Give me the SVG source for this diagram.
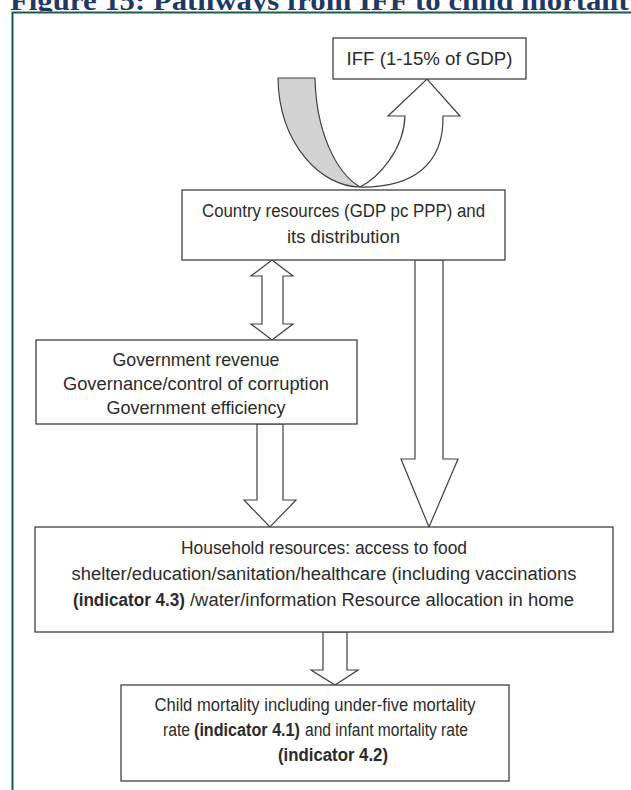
<svg xmlns="http://www.w3.org/2000/svg" width="631" height="790" viewBox="0 0 631 790">
  <defs>
    <clipPath id="title-clip">
      <rect x="0" y="0" width="631" height="11.5"/>
    </clipPath>
    <style>
      .frame { fill: none; stroke: #1d5c4b; stroke-width: 2; }
      .title { font-family: "Liberation Serif", "Times New Roman", serif; font-weight: bold; font-size: 28px; fill: #1f3864; }
      .box { fill: #ffffff; stroke: #404040; stroke-width: 1.3; }
      .label { font-family: "Liberation Sans", Arial, sans-serif; font-size: 18px; fill: #2b2b2b; text-anchor: middle; }
      .run { font-family: "Liberation Sans", Arial, sans-serif; font-size: 18px; fill: #2b2b2b; text-anchor: start; }
      .b { font-weight: bold; }
      .arrow { fill: #ffffff; stroke: #404040; stroke-width: 1.2; stroke-linejoin: miter; }
      .band-back { fill: #d3d3d3; stroke: #404040; stroke-width: 1.2; stroke-linejoin: round; }
    </style>
  </defs>

  <rect width="631" height="790" fill="#ffffff"/>

  <!-- figure caption, cut off by the page top -->
  <text class="title" x="10" y="10" textLength="634" lengthAdjust="spacingAndGlyphs" clip-path="url(#title-clip)">Figure 15: Pathways from IFF to child mortality</text>

  <!-- figure frame -->
  <path class="frame" d="M12.5,790 V12.5 H631"/>

  <!-- connectors -->
  <g id="connectors">
    <!-- curved outflow arrow: country resources to IFF -->
    <g id="iff-outflow">
      <!-- shaded back of the band (tail) -->
      <path class="band-back" d="M278,78 L315,78 C316,130 335,172 360,187 C322,187 279,145 278,78 Z"/>
      <!-- front of the band rising to the arrowhead -->
      <path class="arrow" d="M360,187 C378,178 404,150 405,116 L388,116 L427,79 L460,116 L443,116 C444,165 412,188 360,187 Z"/>
    </g>
    <!-- two-way link country resources / government -->
    <polygon class="arrow" points="272,260 293,276 283,276 283,324 293,324 272,340 251,324 262,324 262,276 251,276"/>
    <!-- country resources to household -->
    <polygon class="arrow" points="415,260 443,260 443,459 458,459 429,527 401,459 415,459"/>
    <!-- government to household -->
    <polygon class="arrow" points="257,424 283,424 283,500 296,500 270,527 244,500 257,500"/>
    <!-- household to child mortality -->
    <polygon class="arrow" points="323,632 347,632 347,670 358,670 335,685 311,670 323,670"/>
  </g>

  <g id="node-iff">
    <rect class="box" x="333" y="38" width="193" height="41"/>
    <text class="label" x="429.5" y="65" font-size="18.5" textLength="166" lengthAdjust="spacingAndGlyphs">IFF (1-15% of GDP)</text>
  </g>

  <g id="node-country">
    <rect class="box" x="182" y="190" width="323" height="70"/>
    <text class="label" x="343.5" y="217" textLength="283" lengthAdjust="spacingAndGlyphs">Country resources (GDP pc PPP) and</text>
    <text class="label" x="343.5" y="243" textLength="113" lengthAdjust="spacingAndGlyphs">its distribution</text>
  </g>

  <g id="node-government">
    <rect class="box" x="36" y="340" width="321" height="84"/>
    <text class="label" x="196" y="366" textLength="167" lengthAdjust="spacingAndGlyphs">Government revenue</text>
    <text class="label" x="196" y="390" textLength="266" lengthAdjust="spacingAndGlyphs">Governance/control of corruption</text>
    <text class="label" x="196" y="414" textLength="179" lengthAdjust="spacingAndGlyphs">Government efficiency</text>
  </g>

  <g id="node-household">
    <rect class="box" x="35" y="527" width="578" height="105"/>
    <text class="label" x="324" y="554" textLength="286" lengthAdjust="spacingAndGlyphs">Household resources: access to food</text>
    <text class="label" x="324" y="580" textLength="505" lengthAdjust="spacingAndGlyphs">shelter/education/sanitation/healthcare (including vaccinations</text>
    <text class="run b" x="73" y="606" textLength="112" lengthAdjust="spacingAndGlyphs">(indicator 4.3)</text>
    <text class="run" x="190" y="606" textLength="384" lengthAdjust="spacingAndGlyphs">/water/information Resource allocation in home</text>
  </g>

  <g id="node-child">
    <rect class="box" x="121" y="685" width="388" height="96"/>
    <text class="label" x="315" y="711" textLength="321" lengthAdjust="spacingAndGlyphs">Child mortality including under-five mortality</text>
    <text class="run" x="163" y="736" textLength="27" lengthAdjust="spacingAndGlyphs">rate</text>
    <text class="run b" x="194" y="736" textLength="106" lengthAdjust="spacingAndGlyphs">(indicator 4.1)</text>
    <text class="run" x="305" y="736" textLength="163" lengthAdjust="spacingAndGlyphs">and infant mortality rate</text>
    <text class="label b" x="333" y="761" textLength="110" lengthAdjust="spacingAndGlyphs">(indicator 4.2)</text>
  </g>
</svg>
